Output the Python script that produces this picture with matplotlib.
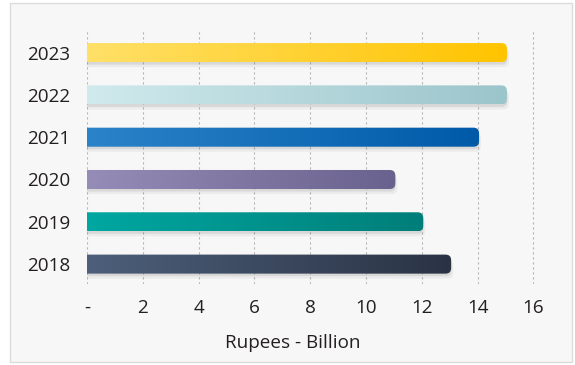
import matplotlib
matplotlib.use("Agg")
import matplotlib.pyplot as plt
import matplotlib.patches as mpatches
from matplotlib.colors import LinearSegmentedColormap
import numpy as np

years = ["2018", "2019", "2020", "2021", "2022", "2023"]
values = [13, 12, 11, 14, 15, 15]
left_colors = ["#4d5f7a", "#00a7a1", "#958cb7", "#2b84c9", "#d0eaed", "#ffe068"]
right_colors = ["#2a3344", "#007e79", "#6a628e", "#005aa8", "#9bc5cb", "#ffc400"]
xticks = [0, 2, 4, 6, 8, 10, 12, 14, 16]
xticklabels = ["-", "2", "4", "6", "8", "10", "12", "14", "16"]

plt.rcParams["font.family"] = ["Open Sans", "DejaVu Sans"]
text_color = "#231f20"

fig = plt.figure(figsize=(5.75, 3.65), dpi=100)
fig.patch.set_facecolor("white")

# light panel behind the chart
panel = mpatches.Rectangle((10 / 575, 3 / 365), 562 / 575, 359 / 365,
                           transform=fig.transFigure, facecolor="#f7f7f7",
                           edgecolor="#dcdcdc", linewidth=1.0, zorder=-5)
fig.patches.append(panel)

ax = fig.add_axes([87 / 575, 1 - 284 / 365, 460.4 / 575, 253 / 365], zorder=2)
ax.set_facecolor("none")

ypos = np.arange(len(years))
bar_h = 0.45
bars = ax.barh(ypos, values, height=bar_h, color="none", zorder=1)

for bar, c0, c1 in zip(bars, left_colors, right_colors):
    x0, y0 = bar.get_x(), bar.get_y()
    w, h = bar.get_width(), bar.get_height()
    # soft shadow
    for k, a in [(0.12, 0.07), (0.06, 0.12)]:
        sh = mpatches.FancyBboxPatch((x0 - 0.5 + k, y0 - k), w + 0.5, h,
                                     boxstyle="round,pad=0,rounding_size=0.2",
                                     mutation_aspect=0.66, facecolor="#555555",
                                     edgecolor="none", alpha=a, zorder=2)
        ax.add_patch(sh)
    clip = mpatches.FancyBboxPatch((x0 - 0.5, y0), w + 0.5 + 0.05, h,
                                   boxstyle="round,pad=0,rounding_size=0.2",
                                   mutation_aspect=0.66, facecolor="none",
                                   edgecolor="none", zorder=3)
    ax.add_patch(clip)
    cmap = LinearSegmentedColormap.from_list("g", [c0, c1])
    grad = np.linspace(0, 1, 256).reshape(1, -1)
    im = ax.imshow(grad, cmap=cmap, extent=(x0, x0 + w + 0.05, y0, y0 + h),
                   aspect="auto", interpolation="bilinear", zorder=3)
    im.set_clip_path(clip)

ax.set_xlim(0, 16.5)
ax.set_ylim(-0.47, 5.51)
ax.set_xticks(xticks)
ax.set_xticklabels(xticklabels)
ax.set_yticks(ypos)
ax.set_yticklabels(years)
ax.tick_params(axis="x", length=0, pad=11, labelsize=13.6, labelcolor=text_color)
ax.tick_params(axis="y", length=0, pad=12, labelsize=13.6, labelcolor=text_color)
ax.grid(axis="x", color="#b5b5b5", linestyle=(0, (2, 2.5)), linewidth=0.8, zorder=0)
ax.set_axisbelow(True)
for s in ax.spines.values():
    s.set_visible(False)

fig.text(293 / 575, 1 - 343 / 365, "Rupees - Billion", ha="center", va="center",
         fontsize=13.6, color=text_color)

fig.savefig("out.png", dpi=100, facecolor=fig.get_facecolor())
